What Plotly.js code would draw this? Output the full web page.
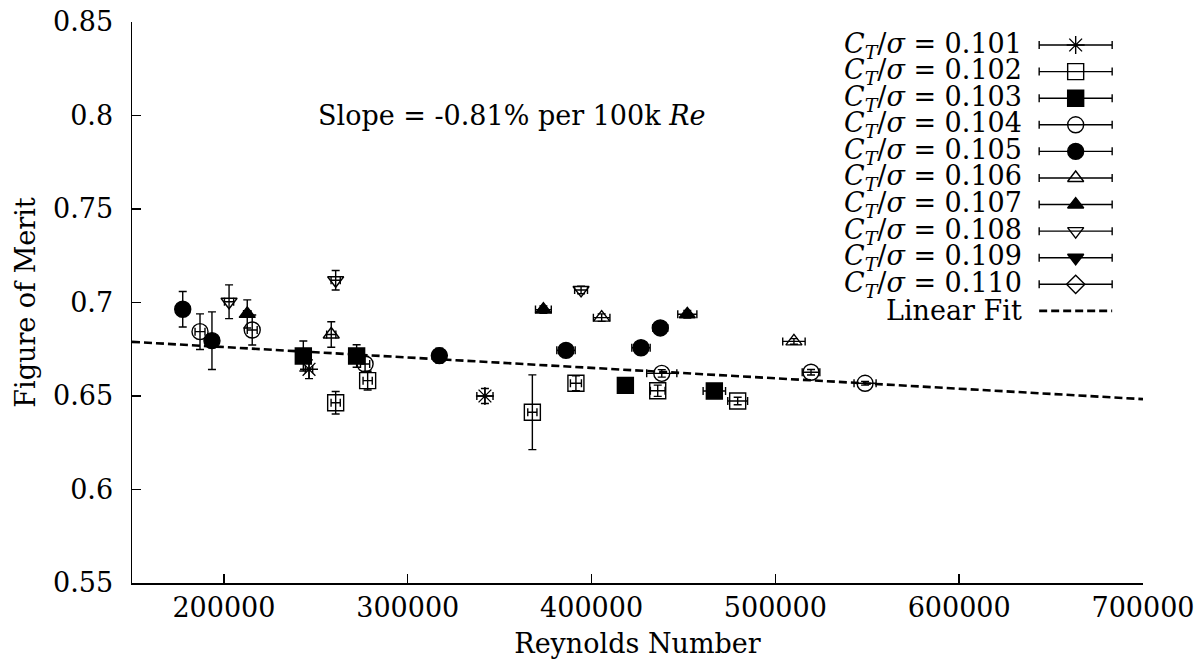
<!DOCTYPE html>
<html><head><meta charset="utf-8">
<script src="https://cdn.plot.ly/plotly-3.0.1.min.js"></script>
<style>html,body{margin:0;padding:0;background:#fff}#chart{width:1201px;height:665px}</style>
</head><body><div id="chart"></div>
<script>
// ---- data ----
const ctSigmaLabels = ['0.101','0.102','0.103','0.104','0.105','0.106','0.107','0.108','0.109','0.110'];

const re_101 = [246300, 342000];
const fom_101 = [0.6643, 0.6500];
const reErr_101 = [2000, 4400];
const fomErr_101 = [0.005, 0.004];

const re_102 = [260800, 278200, 367800, 391500, 436000, 479500];
const fom_102 = [0.6464, 0.6582, 0.6413, 0.6568, 0.6528, 0.6473];
const reErr_102 = [2500, 2500, 2500, 3000, 4000, 5400];
const fomErr_102 = [0.006, 0.005, 0.020, 0.004, 0.003, 0.002];

const re_103 = [243200, 272200, 418400, 466800];
const fom_103 = [0.6714, 0.6714, 0.6557, 0.6527];
const reErr_103 = [2000, 2500, 3500, 6100];
const fomErr_103 = [0.008, 0.006, 0.002, 0.002];

const re_104 = [187000, 215400, 276800, 438200, 519400, 548800];
const fom_104 = [0.6844, 0.6853, 0.6671, 0.6621, 0.6627, 0.6568];
const reErr_104 = [2700, 2700, 2500, 8200, 4800, 6000];
const fomErr_104 = [0.0095, 0.008, 0.004, 0.002, 0.0015, 0.001];

const re_105 = [177600, 193500, 317200, 386100, 426900, 437400];
const fom_105 = [0.6964, 0.6796, 0.6716, 0.6744, 0.6758, 0.6864];
const reErr_105 = [2000, 2000, 3000, 5000, 5000, 4000];
const fomErr_105 = [0.0095, 0.0154, 0.004, 0.003, 0.002, 0.002];

const re_106 = [258400, 405500, 510100];
const fom_106 = [0.6829, 0.6919, 0.6792];
const reErr_106 = [2500, 4500, 6100];
const fomErr_106 = [0.0068, 0.002, 0.0015];

const re_107 = [212700, 373800, 452100];
const fom_107 = [0.6939, 0.6962, 0.6937];
const reErr_107 = [2000, 4300, 5200];
const fomErr_107 = [0.0075, 0.002, 0.002];

const re_108 = [202800, 260800, 394300];
const fom_108 = [0.7004, 0.7119, 0.7067];
const reErr_108 = [2500, 2500, 3500];
const fomErr_108 = [0.009, 0.0052, 0.002];

const re_109 = [];
const fom_109 = [];
const reErr_109 = [];
const fomErr_109 = [];

const re_110 = [];
const fom_110 = [];
const reErr_110 = [];
const fomErr_110 = [];

const fitIntercept = 0.6873;      // FoM at Re = 0
const fitSlope = -5.567e-8;       // per unit Re  (-0.81% per 100k Re)
const slopeLabel = 'Slope = -0.81% per 100k <i>Re</i>';

const xTickVals = [200000, 300000, 400000, 500000, 600000, 700000];
const xTickText = ['200000', '300000', '400000', '500000', '600000', '700000'];
const yTickVals = [0.55, 0.6, 0.65, 0.7, 0.75, 0.8, 0.85];
const yTickText = ['0.55', '0.6', '0.65', '0.7', '0.75', '0.8', '0.85'];

// ---- styling ----
const FONT = 'DejaVu Serif';
const FS = 27;
const seriesData = [
  [re_101, fom_101, reErr_101, fomErr_101],
  [re_102, fom_102, reErr_102, fomErr_102],
  [re_103, fom_103, reErr_103, fomErr_103],
  [re_104, fom_104, reErr_104, fomErr_104],
  [re_105, fom_105, reErr_105, fomErr_105],
  [re_106, fom_106, reErr_106, fomErr_106],
  [re_107, fom_107, reErr_107, fomErr_107],
  [re_108, fom_108, reErr_108, fomErr_108],
  [re_109, fom_109, reErr_109, fomErr_109],
  [re_110, fom_110, reErr_110, fomErr_110]
];
const symbols = ['asterisk-open','square-open','square','circle-open','circle',
                 'triangle-up-open','triangle-up','triangle-down-open','triangle-down','diamond-open'];
const sizes = [15,16,16,16,16,14,14,14,14,14];

const traces = [];
const annotations = [];

seriesData.forEach((s, i) => {
  traces.push({
    type: 'scatter', mode: 'markers',
    name: 'C_T/σ = ' + ctSigmaLabels[i],
    x: s[0], y: s[1],
    error_x: {type: 'data', array: s[2], visible: true, color: '#000', thickness: 1.4, width: 4},
    error_y: {type: 'data', array: s[3], visible: true, color: '#000', thickness: 1.4, width: 4},
    marker: {symbol: symbols[i], size: sizes[i], color: '#000', line: {color: '#000', width: 1.4}},
    showlegend: false, cliponaxis: false
  });
});

// linear fit across the x-axis range
const xRange = [150000, 700000];
traces.push({
  type: 'scatter', mode: 'lines', name: 'Linear Fit',
  x: xRange, y: xRange.map(r => fitIntercept + fitSlope * r),
  line: {color: '#000', width: 2.6, dash: '8px,4px'},
  showlegend: false
});

// ---- custom gnuplot-style key (text right, sample left) ----
const keyTop = 0.959, keyStep = 0.0474, keyCx = 0.9334, keyHalf = 0.0361, keyTextX = 0.882;
ctSigmaLabels.forEach((lab, i) => {
  const yk = keyTop - i * keyStep;
  annotations.push({xref: 'paper', yref: 'paper', x: keyTextX, y: yk, xanchor: 'right', yanchor: 'middle',
    text: '<i>C</i><sub><i>T</i></sub>/<i>σ</i> = ' + lab, showarrow: false,
    font: {family: FONT, size: FS, color: '#000'}});
  traces.push({
    type: 'scatter', mode: 'markers', xaxis: 'x2', yaxis: 'y2', showlegend: false, hoverinfo: 'skip',
    x: [keyCx], y: [yk],
    error_x: {type: 'data', array: [keyHalf], visible: true, color: '#000', thickness: 1.4, width: 4},
    marker: {symbol: symbols[i], size: sizes[i], color: '#000', line: {color: '#000', width: 1.4}}
  });
});
const yFitKey = keyTop - ctSigmaLabels.length * keyStep;
annotations.push({xref: 'paper', yref: 'paper', x: keyTextX, y: yFitKey, xanchor: 'right', yanchor: 'middle',
  text: 'Linear Fit', showarrow: false, font: {family: FONT, size: FS, color: '#000'}});
traces.push({
  type: 'scatter', mode: 'lines', xaxis: 'x2', yaxis: 'y2', showlegend: false, hoverinfo: 'skip',
  x: [keyCx - keyHalf, keyCx + keyHalf], y: [yFitKey, yFitKey],
  line: {color: '#000', width: 2.6, dash: '8px,4px'}
});

annotations.push({xref: 'x', yref: 'y', x: 250000, y: 0.8, xanchor: 'left', yanchor: 'middle',
  text: slopeLabel, showarrow: false, font: {family: FONT, size: FS, color: '#000'}});

const axisCommon = {
  showline: true, linecolor: '#000', linewidth: 1.5, mirror: false,
  ticks: 'inside', ticklen: 9, tickwidth: 1.5, tickcolor: '#000',
  showgrid: false, zeroline: false,
  tickfont: {family: FONT, size: FS, color: '#000'}
};

const layout = {
  width: 1201, height: 665,
  margin: {l: 132, r: 58, t: 22, b: 82, pad: 0},
  paper_bgcolor: '#fff', plot_bgcolor: '#fff',
  font: {family: FONT, size: FS, color: '#000'},
  showlegend: false,
  xaxis: Object.assign({}, axisCommon, {
    range: xRange, tickvals: xTickVals, ticktext: xTickText, ticklabelstandoff: 0,
    title: {text: 'Reynolds Number', font: {family: FONT, size: FS, color: '#000'}, standoff: 12}
  }),
  yaxis: Object.assign({}, axisCommon, {
    range: [0.55, 0.85], tickvals: yTickVals, ticktext: yTickText, ticklabelstandoff: 12,
    title: {text: 'Figure of Merit', font: {family: FONT, size: FS, color: '#000'}, standoff: 9}
  }),
  xaxis2: {overlaying: 'x', anchor: 'y2', range: [0, 1], visible: false, fixedrange: true},
  yaxis2: {overlaying: 'y', anchor: 'x2', range: [0, 1], visible: false, fixedrange: true},
  annotations: annotations
};

Plotly.newPlot('chart', traces, layout, {displayModeBar: false, staticPlot: true});
</script></body></html>
